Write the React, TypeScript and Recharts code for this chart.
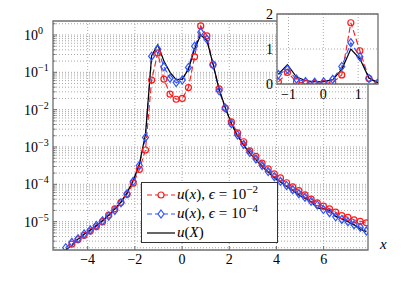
import {
  CartesianGrid,
  Legend,
  Line,
  LineChart,
  ReferenceArea,
  XAxis,
  YAxis,
} from "recharts";

// sample positions (x) and the three curves
const xs = [
  -4.93, -4.67, -4.41, -4.15, -3.89, -3.63, -3.37, -3.11, -2.85, -2.59,
  -2.33, -2.07, -1.81, -1.55, -1.29, -1.03, -0.77, -0.51, -0.25, 0.01,
  0.27, 0.53, 0.79, 1.05, 1.31, 1.57, 1.83, 2.09, 2.35, 2.61,
  2.87, 3.13, 3.39, 3.65, 3.91, 4.17, 4.43, 4.69, 4.95, 5.21,
  5.47, 5.73, 5.99, 6.25, 6.51, 6.77, 7.03, 7.29, 7.55, 7.81,
];

const uEps2 = [
  null, 2.5e-6, 3.3e-6, 4.3e-6, 5.6e-6, 7.4e-6, 1.0e-5, 1.5e-5, 2.2e-5, 3.3e-5,
  5.4e-5, 1.07e-4, 2.5e-4, 8.3e-4, 0.062, 0.33, 0.066, 0.026, 0.019, 0.02,
  0.039, 0.26, 1.75, 0.95, 0.16, 0.036, 0.011, 4.7e-3, 2.4e-3, 1.38e-3,
  7.9e-4, 5.6e-4, 3.7e-4, 2.6e-4, 1.9e-4, 1.48e-4, 1.1e-4, 8.5e-5, 6.8e-5, 5.2e-5,
  4.0e-5, 3.2e-5, 2.6e-5, 2.2e-5, 1.8e-5, 1.45e-5, 1.3e-5, 1.12e-5, 1.02e-5, 9.3e-6,
];

const uEps4 = [
  2.0e-6, 2.8e-6, 3.5e-6, 4.7e-6, 6.0e-6, 7.9e-6, 1.05e-5, 1.4e-5, 2.0e-5, 3.2e-5,
  5.6e-5, 1.2e-4, 3.2e-4, 1.8e-3, 0.27, 0.42, 0.14, 0.069, 0.053, 0.062,
  0.135, 0.5, 1.18, 0.78, 0.16, 0.032, 0.011, 4.2e-3, 2.1e-3, 1.17e-3,
  7.1e-4, 4.8e-4, 3.2e-4, 2.2e-4, 1.6e-4, 1.2e-4, 9.3e-5, 7.2e-5, 5.6e-5, 4.5e-5,
  3.5e-5, 2.8e-5, 2.1e-5, 1.74e-5, 1.35e-5, 1.15e-5, 1.0e-5, 8.3e-6, 7.1e-6, 5.6e-6,
];

const uX = [
  1.8e-6, 2.3e-6, 3.4e-6, 4.6e-6, 6.0e-6, 7.9e-6, 1.07e-5, 1.5e-5, 2.2e-5, 3.4e-5,
  6.0e-5, 1.26e-4, 3.5e-4, 2.2e-3, 0.28, 0.55, 0.2, 0.1, 0.064, 0.066,
  0.12, 0.42, 1.0, 0.72, 0.17, 0.035, 0.0115, 4.2e-3, 2.0e-3, 1.12e-3,
  6.8e-4, 4.5e-4, 3.0e-4, 2.1e-4, 1.5e-4, 1.15e-4, 8.7e-5, 6.8e-5, 5.2e-5, 4.2e-5,
  3.4e-5, 2.3e-5, 2.24e-5, 2.0e-5, 1.4e-5, 1.2e-5, 1.0e-5, 8.3e-6, 6.3e-6, 5.4e-6,
];

const xTicks = [-4, -2, 0, 2, 4, 6];
const insetXTicks = [-1, 0, 1];
const insetYTicks = [0, 1, 2];

const RED = "#ff1a1a";
const BLUE = "#2f55ff";
const FRAME = "#6e6e6e";
const GRID = "#a8a8a8";
const FONT = "Liberation Serif, DejaVu Serif, serif";

const X_DOMAIN: [number, number] = [-5.47, 7.88];
const Y_DOMAIN: [number, number] = [1.74e-6, 2.37];
const INSET_X: [number, number] = [-1.33, 1.57];
const INSET_Y: [number, number] = [0, 2];

const rows = xs.map((x, i) => ({ x, e2: uEps2[i], e4: uEps4[i], ux: uX[i] }));
const insetRows = rows.filter((r) => r.x >= INSET_X[0] && r.x <= INSET_X[1]);

// log-axis grid / ticks: every 1..9 x 10^k inside the domain
const minorY: number[] = [];
for (let e = -6; e <= 0; e++) {
  for (let m = 1; m <= 9; m++) {
    const v = m * Math.pow(10, e);
    if (v >= Y_DOMAIN[0] && v <= Y_DOMAIN[1]) minorY.push(v);
  }
}
const isDecade = (v: number) => Math.abs(Math.log10(v) - Math.round(Math.log10(v))) < 1e-6;

const minus = (v: number) => (v < 0 ? `\u2212${-v}` : `${v}`);

function XTick({ x, y, payload, dy, up }: any) {
  return (
    <g>
      {up !== undefined && <line x1={x} x2={x} y1={y} y2={y - up} stroke={FRAME} />}
      <text x={x} y={y + dy} textAnchor="middle" fontFamily={FONT} fontSize={14} fill="#000">
        {minus(payload.value)}
      </text>
    </g>
  );
}

function TopTick({ x, y }: any) {
  return <line x1={x} x2={x} y1={y} y2={y + 4} stroke={FRAME} />;
}

function PowTick({ x, y, payload }: any) {
  const major = isDecade(payload.value);
  const e = Math.round(Math.log10(payload.value));
  return (
    <g>
      <line x1={x} x2={x + (major ? 4 : 2.5)} y1={y} y2={y} stroke={FRAME} />
      {major && (
        <text x={x - 29} y={y + 5} fontFamily={FONT} fontSize={14} fill="#000">
          10
          <tspan dy={-6} fontSize={10}>
            {minus(e)}
          </tspan>
        </text>
      )}
    </g>
  );
}

function RightTick({ x, y, payload }: any) {
  const major = isDecade(payload.value);
  return <line x1={x} x2={x - (major ? 4 : 2.5)} y1={y} y2={y} stroke={FRAME} />;
}

function LinTick({ x, y, payload }: any) {
  return (
    <text x={x - 4} y={y + 5} textAnchor="end" fontFamily={FONT} fontSize={14} fill="#000">
      {payload.value}
    </text>
  );
}

function Diamond({ cx, cy, index }: any) {
  if (cx == null || cy == null) return <g key={index} />;
  return (
    <path
      key={index}
      d={`M${cx},${cy - 4} L${cx + 3},${cy} L${cx},${cy + 4} L${cx - 3},${cy} Z`}
      fill="none"
      stroke={BLUE}
      strokeWidth={1.2}
    />
  );
}

const circleDot = { r: 3, stroke: RED, fill: "none", strokeWidth: 1.2, strokeDasharray: "none" };

function Sample({ color, dash, marker }: { color: string; dash?: string; marker?: string }) {
  return (
    <svg width={30} height={12} style={{ display: "block" }}>
      <line x1={1} y1={6} x2={29} y2={6} stroke={color} strokeWidth={1.2} strokeDasharray={dash} />
      {marker === "circle" && <circle cx={15} cy={6} r={3} fill="#fff" stroke={color} strokeWidth={1.2} />}
      {marker === "diamond" && (
        <path d="M15,2 L18,6 L15,10 L12,6 Z" fill="#fff" stroke={color} strokeWidth={1.2} />
      )}
    </svg>
  );
}

function LegendBox() {
  const sup = { fontSize: 11, verticalAlign: "super", lineHeight: 0 } as const;
  const rowStyle = { display: "flex", alignItems: "center", height: 19 } as const;
  const gap = { margin: "0 4px" };
  return (
    <div
      style={{
        boxSizing: "border-box",
        width: 137,
        height: 61,
        border: "1px solid #333",
        background: "#fff",
        padding: "2px 0 0 4px",
        fontFamily: FONT,
        fontSize: 15,
        color: "#000",
        whiteSpace: "nowrap",
      }}
    >
      <div style={rowStyle}>
        <Sample color={RED} dash="5 3" marker="circle" />
        <span style={{ marginLeft: 1 }}>
          <i>u</i>(<i>x</i>), <i>ϵ</i>
          <span style={gap}>=</span>10<span style={sup}>−2</span>
        </span>
      </div>
      <div style={rowStyle}>
        <Sample color={BLUE} dash="5 3" marker="diamond" />
        <span style={{ marginLeft: 1 }}>
          <i>u</i>(<i>x</i>), <i>ϵ</i>
          <span style={gap}>=</span>10<span style={sup}>−4</span>
        </span>
      </div>
      <div style={rowStyle}>
        <Sample color="#000" />
        <span style={{ marginLeft: 1 }}>
          <i>u</i>(<i>X</i>)
        </span>
      </div>
    </div>
  );
}

export default function App() {
  return (
    <div style={{ position: "absolute", left: 0, top: 0, width: 407, height: 282, background: "#fff" }}>
      <LineChart width={407} height={282} data={rows} margin={{ top: 21, right: 39, bottom: 2, left: 8 }}>
        <CartesianGrid
          stroke={GRID}
          strokeDasharray="1 2"
          horizontalValues={minorY}
          verticalValues={xTicks}
        />
        <XAxis
          dataKey="x"
          type="number"
          domain={X_DOMAIN}
          allowDataOverflow
          ticks={xTicks}
          interval={0}
          height={30}
          tickSize={0}
          tickMargin={0}
          axisLine={false}
          tickLine={false}
          tick={(p: any) => <XTick {...p} dy={14} up={4} />}
        />
        <XAxis
          xAxisId="top"
          orientation="top"
          type="number"
          domain={X_DOMAIN}
          allowDataOverflow
          ticks={xTicks}
          interval={0}
          height={0}
          tickSize={0}
          tickMargin={0}
          axisLine={false}
          tickLine={false}
          tick={<TopTick />}
        />
        <YAxis
          type="number"
          scale="log"
          domain={Y_DOMAIN}
          allowDataOverflow
          ticks={minorY}
          interval={0}
          width={45}
          tickSize={0}
          tickMargin={0}
          axisLine={false}
          tickLine={false}
          tick={<PowTick />}
        />
        <YAxis
          yAxisId="right"
          orientation="right"
          type="number"
          scale="log"
          domain={Y_DOMAIN}
          allowDataOverflow
          ticks={minorY}
          interval={0}
          width={0}
          tickSize={0}
          tickMargin={0}
          axisLine={false}
          tickLine={false}
          tick={<RightTick />}
        />
        <Line
          dataKey="e2"
          stroke={RED}
          strokeWidth={1.1}
          strokeDasharray="6 3"
          dot={circleDot}
          isAnimationActive={false}
        />
        <Line
          dataKey="e4"
          stroke={BLUE}
          strokeWidth={1.1}
          strokeDasharray="6 3"
          dot={<Diamond />}
          isAnimationActive={false}
        />
        <Line dataKey="ux" stroke="#000" strokeWidth={1.2} dot={false} isAnimationActive={false} />
        <ReferenceArea
          x1={X_DOMAIN[0]}
          x2={X_DOMAIN[1]}
          y1={Y_DOMAIN[0]}
          y2={Y_DOMAIN[1]}
          fill="none"
          stroke={FRAME}
          strokeWidth={1.3}
        />
        <Legend
          layout="vertical"
          align="center"
          verticalAlign="middle"
          content={() => <LegendBox />}
          wrapperStyle={{ left: 141, top: 182, width: 137, height: 61 }}
        />
      </LineChart>

      <div
        style={{
          position: "absolute",
          left: 380,
          top: 237,
          fontFamily: FONT,
          fontSize: 15,
          fontStyle: "italic",
          lineHeight: "14px",
        }}
      >
        x
      </div>

      <div style={{ position: "absolute", left: 250, top: 4 }}>
        <LineChart width={140} height={100} data={insetRows} margin={{ top: 10, right: 12, bottom: 6, left: 7 }}>
          <CartesianGrid
            fill="#fff"
            stroke={GRID}
            strokeDasharray="1 2"
            verticalValues={insetXTicks}
            horizontalValues={insetYTicks}
          />
          <XAxis
            dataKey="x"
            type="number"
            domain={INSET_X}
            allowDataOverflow
            ticks={insetXTicks}
            interval={0}
            height={14}
            tickSize={0}
            tickMargin={0}
            axisLine={false}
            tickLine={false}
            tick={(p: any) => <XTick {...p} dy={15} />}
          />
          <YAxis
            type="number"
            domain={INSET_Y}
            allowDataOverflow
            ticks={insetYTicks}
            interval={0}
            width={20}
            tickSize={0}
            tickMargin={0}
            axisLine={false}
            tickLine={false}
            tick={<LinTick />}
          />
          <Line
            dataKey="e2"
            stroke={RED}
            strokeWidth={1.1}
            strokeDasharray="6 3"
            dot={circleDot}
            isAnimationActive={false}
          />
          <Line
            dataKey="e4"
            stroke={BLUE}
            strokeWidth={1.1}
            strokeDasharray="6 3"
            dot={<Diamond />}
            isAnimationActive={false}
          />
          <Line dataKey="ux" stroke="#000" strokeWidth={1.2} dot={false} isAnimationActive={false} />
          <ReferenceArea
            x1={INSET_X[0]}
            x2={INSET_X[1]}
            y1={INSET_Y[0]}
            y2={INSET_Y[1]}
            fill="none"
            stroke={FRAME}
            strokeWidth={1.3}
          />
        </LineChart>
      </div>
    </div>
  );
}
